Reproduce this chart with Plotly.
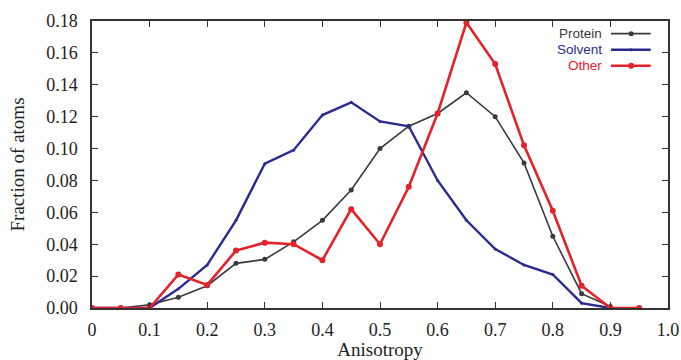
import plotly.graph_objects as go

anisotropy = [0.0, 0.05, 0.1, 0.15, 0.2, 0.25, 0.3, 0.35, 0.4, 0.45, 0.5,
              0.55, 0.6, 0.65, 0.7, 0.75, 0.8, 0.85, 0.9, 0.95]
protein = [0.0, 0.0, 0.002, 0.0068, 0.014, 0.028, 0.0305, 0.0415, 0.055, 0.074, 0.100,
           0.114, 0.122, 0.135, 0.120, 0.091, 0.045, 0.009, 0.001, None]
solvent = [0.0, 0.0, 0.0, 0.012, 0.027, 0.055, 0.0905, 0.099, 0.121, 0.129, 0.117,
           0.114, 0.080, 0.055, 0.037, 0.027, 0.021, 0.003, 0.0, None]
other = [0.0, 0.0, 0.0, 0.021, 0.0145, 0.036, 0.041, 0.040, 0.030, 0.062, 0.040,
         0.076, 0.122, 0.179, 0.153, 0.102, 0.061, 0.014, 0.0, 0.0]

x_ticks = [0, 0.1, 0.2, 0.3, 0.4, 0.5, 0.6, 0.7, 0.8, 0.9, 1.0]
x_tick_labels = ["0", "0.1", "0.2", "0.3", "0.4", "0.5", "0.6", "0.7", "0.8", "0.9", "1.0"]
y_ticks = [0.0, 0.02, 0.04, 0.06, 0.08, 0.10, 0.12, 0.14, 0.16, 0.18]

series = [
    ("Protein", protein, "#3a3a3a", 1.6, 5),
    ("Solvent", solvent, "#2b2b8f", 2.4, 3),
    ("Other", other, "#e3222a", 2.6, 6),
]

SERIF = '"Liberation Serif", "Times New Roman", serif'
SANS = '"Liberation Sans", Arial, sans-serif'

PW, PH = 576, 287  # plot area size in px

fig = go.Figure()
for name, vals, color, lw, ms in series:
    fig.add_trace(go.Scatter(
        x=anisotropy, y=vals, name=name, mode="lines+markers",
        line=dict(color=color, width=lw),
        marker=dict(color=color, size=ms, symbol="circle"),
        connectgaps=False, showlegend=False,
    ))

# manual legend: text right-aligned, sample line to the right
leg_y = [0.956, 0.900, 0.844]
for (name, vals, color, lw, ms), yy in zip(series, leg_y):
    fig.add_annotation(xref="paper", yref="paper", x=0.887, y=yy, text=name,
                       showarrow=False, xanchor="right", yanchor="middle",
                       borderpad=0,
                       font=dict(family=SANS, size=13.5, color=color))
    fig.add_shape(type="line", xref="paper", yref="paper", x0=0.901, x1=0.970,
                  y0=yy, y1=yy, line=dict(color=color, width=lw))
    fig.add_shape(type="circle", xref="paper", yref="paper",
                  x0=0.936 - ms / 2 / PW, x1=0.936 + ms / 2 / PW,
                  y0=yy - ms / 2 / PH, y1=yy + ms / 2 / PH,
                  fillcolor=color, line=dict(color=color, width=0))

axis_common = dict(
    showgrid=False, zeroline=False, showline=True, linecolor="#333333", linewidth=1.5,
    mirror="ticks", ticks="inside", ticklen=6, tickcolor="#333333", tickwidth=1.2,
    tickfont=dict(family=SERIF, size=18, color="#222222"), automargin=False,
    ticklabeloverflow="allow",
)

fig.update_layout(
    width=681, height=360,
    margin=dict(l=92, r=13, t=21, b=52),
    paper_bgcolor="white", plot_bgcolor="white",
    xaxis=dict(range=[0, 1.0], tickvals=x_ticks, ticktext=x_tick_labels,
               ticklabelstandoff=5,
               title=dict(text="Anisotropy", standoff=0,
                          font=dict(family=SERIF, size=19, color="#222222")),
               **axis_common),
    yaxis=dict(range=[0, 0.18], tickvals=y_ticks, tickformat=".2f",
               ticklabelstandoff=9,
               title=dict(text="Fraction of atoms", standoff=17,
                          font=dict(family=SERIF, size=19, color="#222222")),
               **axis_common),
    showlegend=False,
)

fig.write_html(
    "out.html",
    config={"displayModeBar": False},
    post_script="document.body.style.margin='0';document.body.style.overflow='hidden';",
)
